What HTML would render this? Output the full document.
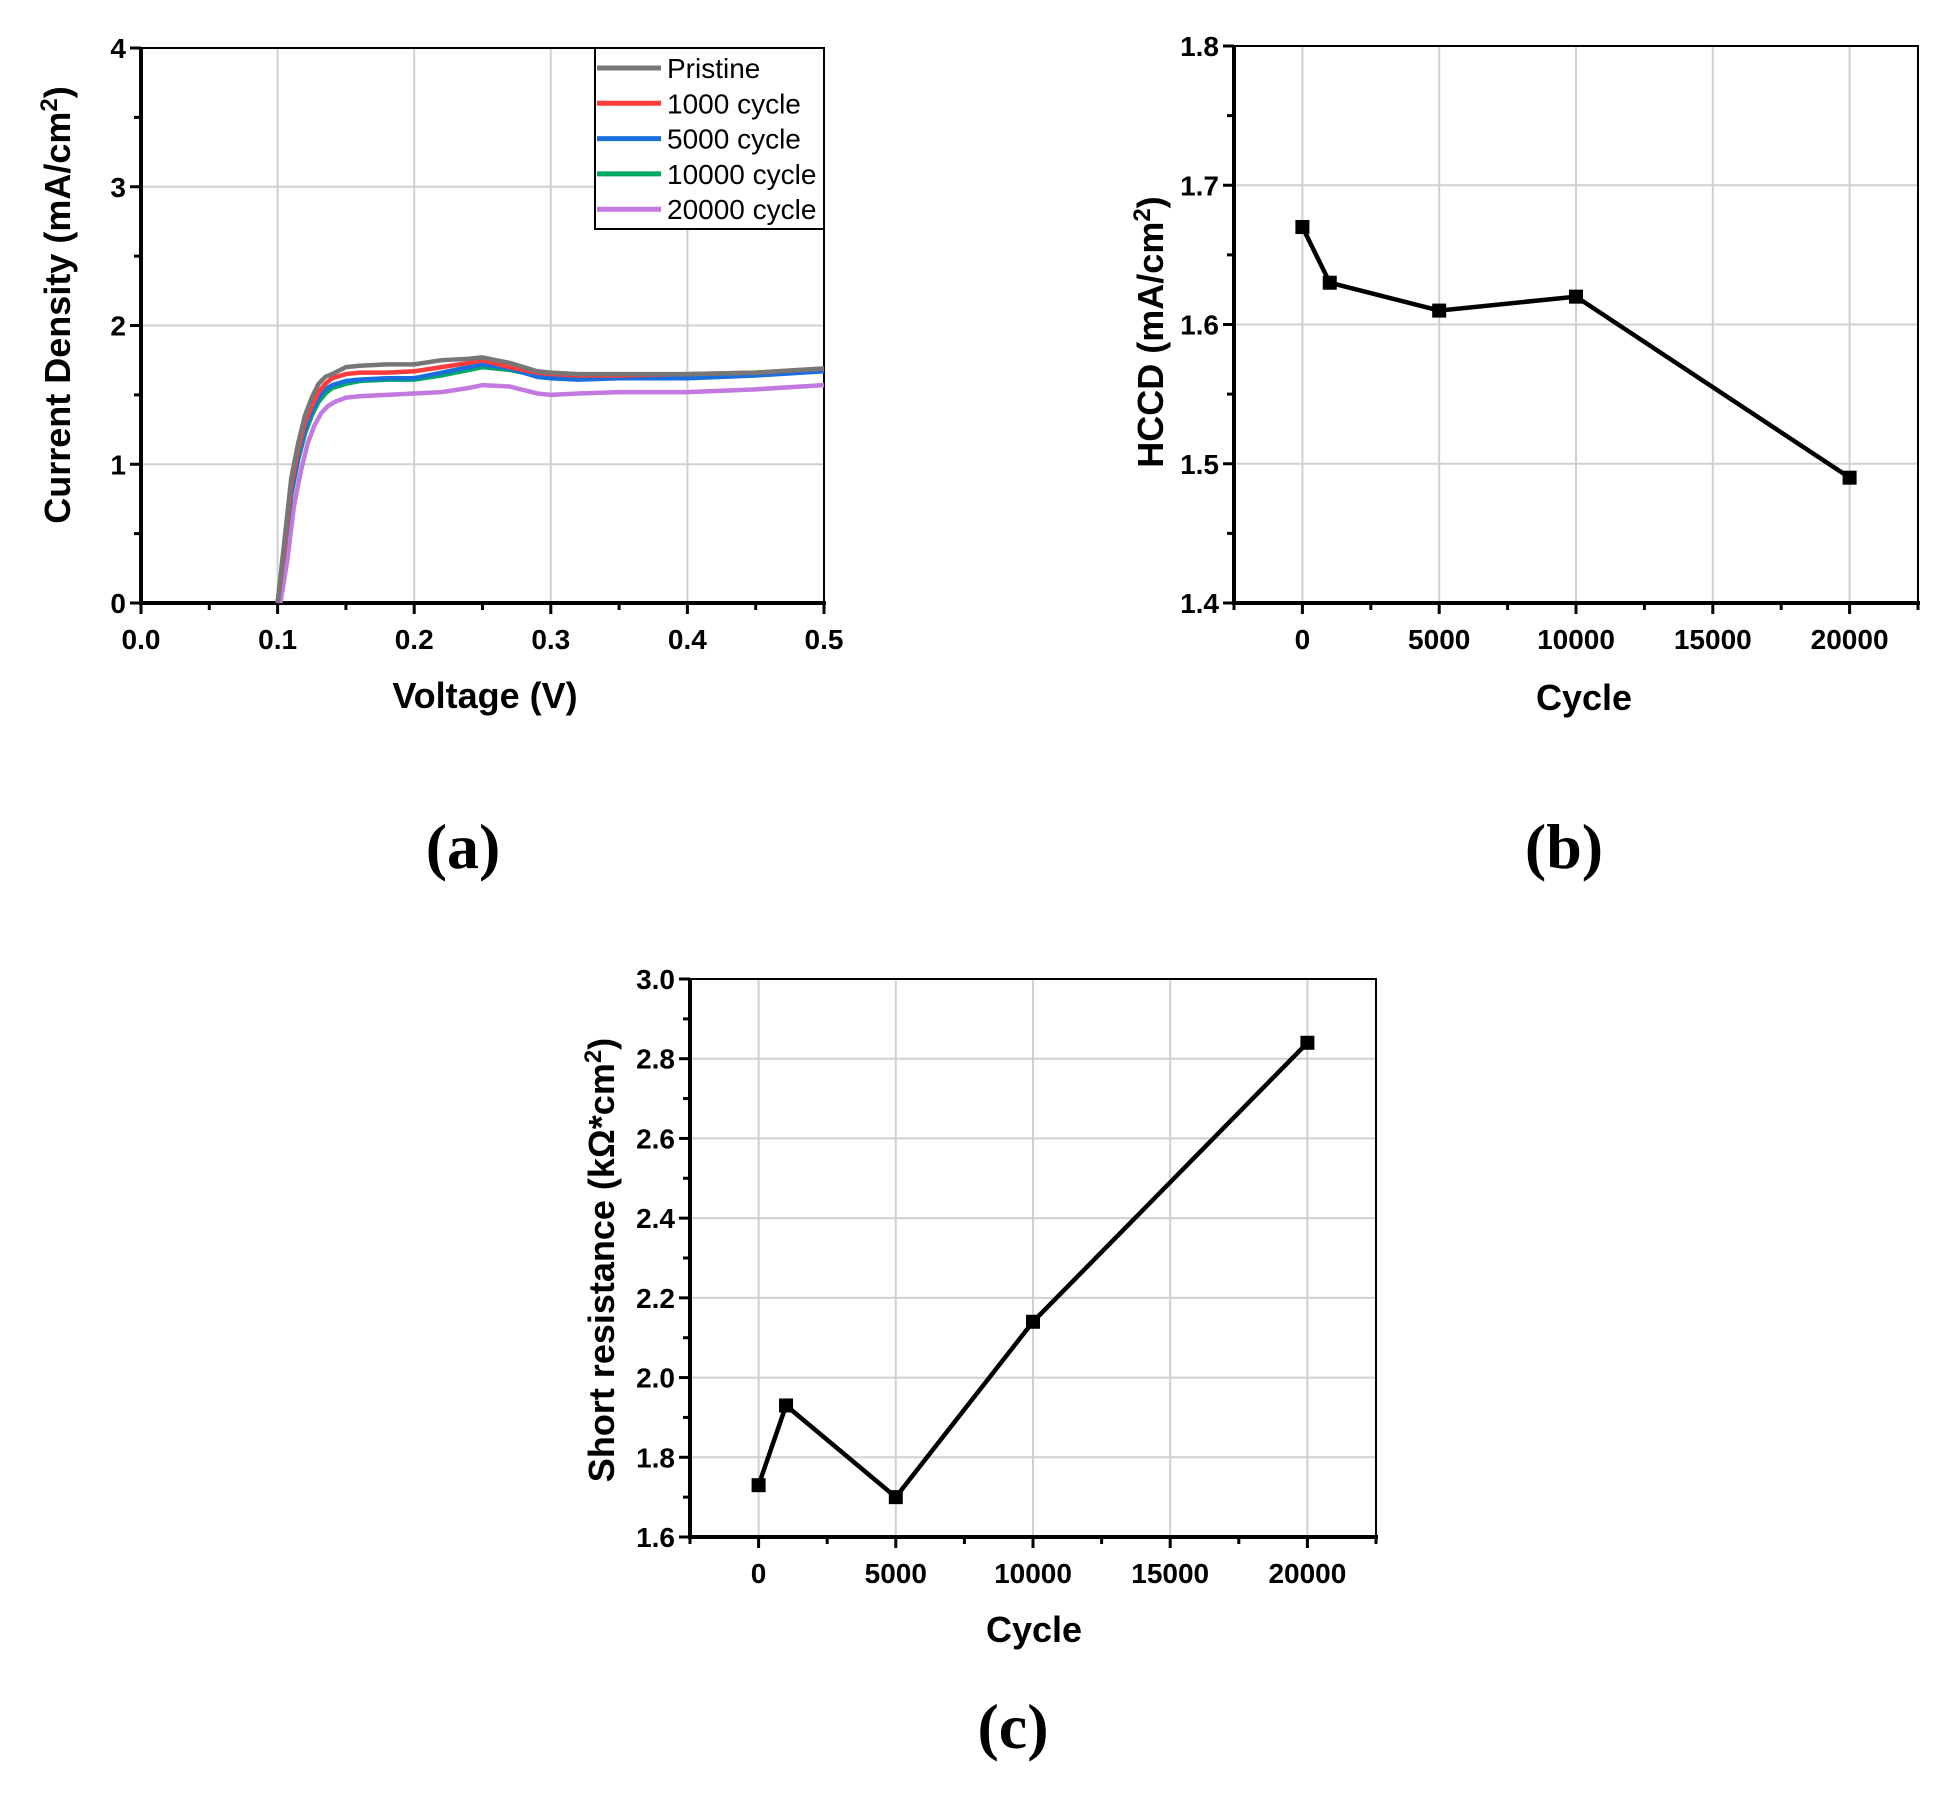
<!DOCTYPE html>
<html><head><meta charset="utf-8"><style>
html,body{margin:0;padding:0;background:#fff;}
svg{display:block;font-family:"Liberation Sans",Arial,sans-serif;}
</style></head><body>
<svg id="fig" width="1949" height="1794" viewBox="0 0 1949 1794" xmlns="http://www.w3.org/2000/svg"></svg>
<script>
// ---- Panel (a) data ----
const aVolt = [0.1,0.105,0.11,0.115,0.12,0.125,0.13,0.135,0.14,0.15,0.16,0.18,0.2,0.22,0.24,0.25,0.27,0.29,0.3,0.32,0.35,0.4,0.45,0.5];
const aVolt20k = [0.102,0.107,0.112,0.117,0.122,0.127,0.132,0.137,0.142,0.15,0.16,0.18,0.2,0.22,0.24,0.25,0.27,0.29,0.3,0.32,0.35,0.4,0.45,0.5];
const aPristine = [0,0.45,0.9,1.15,1.35,1.48,1.58,1.63,1.65,1.70,1.71,1.72,1.72,1.75,1.76,1.77,1.73,1.67,1.66,1.65,1.65,1.65,1.66,1.69];
const a1000 = [0,0.4,0.85,1.1,1.3,1.42,1.52,1.58,1.62,1.65,1.66,1.66,1.67,1.7,1.73,1.75,1.70,1.66,1.65,1.64,1.64,1.65,1.66,1.69];
const a5000 = [0,0.4,0.8,1.05,1.25,1.38,1.48,1.54,1.57,1.6,1.61,1.62,1.62,1.66,1.7,1.72,1.69,1.63,1.62,1.61,1.62,1.62,1.64,1.67];
const a10000 = [0,0.38,0.78,1.03,1.22,1.35,1.45,1.51,1.55,1.58,1.6,1.61,1.61,1.64,1.68,1.7,1.68,1.64,1.63,1.63,1.63,1.64,1.65,1.68];
const a20000 = [0,0.3,0.7,0.95,1.15,1.28,1.37,1.42,1.45,1.48,1.49,1.5,1.51,1.52,1.55,1.57,1.56,1.51,1.50,1.51,1.52,1.52,1.54,1.57];
const aSeriesNames = ["Pristine","1000 cycle","5000 cycle","10000 cycle","20000 cycle"];
const aXTicks = ["0.0","0.1","0.2","0.3","0.4","0.5"];
const aYTicks = ["0","1","2","3","4"];
// ---- Panel (b) data ----
const bCycles = [0,1000,5000,10000,20000];
const bHCCD = [1.67,1.63,1.61,1.62,1.49];
const bYTicks = ["1.4","1.5","1.6","1.7","1.8"];
// ---- Panel (c) data ----
const cCycles = [0,1000,5000,10000,20000];
const cRes = [1.73,1.93,1.70,2.14,2.84];
const cYTicks = ["1.6","1.8","2.0","2.2","2.4","2.6","2.8","3.0"];
const cycleTicks = ["0","5000","10000","15000","20000"];

const NS="http://www.w3.org/2000/svg";
const svg=document.getElementById('fig');
function mk(tag,attrs,parent){const e=document.createElementNS(NS,tag);for(const k in attrs)e.setAttribute(k,attrs[k]);(parent||svg).appendChild(e);return e;}
function txt(s,attrs,parent){const e=mk('text',attrs,parent);e.textContent=s;return e;}
function scale(d0,d1,r0,r1){return v=>r0+(v-d0)/(d1-d0)*(r1-r0);}

function axes(g,box,xd,yd,xMajor,xMinor,yMajor,yMinor,xLabels,yLabels){
  const X=scale(xd[0],xd[1],box.l,box.r),Y=scale(yd[0],yd[1],box.b,box.t);
  xMajor.forEach(v=>{const l=mk('line',{x1:X(v),x2:X(v),y1:box.t,y2:box.b,stroke:'#d0d0d0','stroke-width':2},g);
    
    });
  yMajor.forEach(v=>{const l=mk('line',{x1:box.l,x2:box.r,y1:Y(v),y2:Y(v),stroke:'#d0d0d0','stroke-width':2},g);
    
    });
  const f=mk('rect',{x:box.l,y:box.t,width:box.r-box.l,height:box.b-box.t,fill:'none',stroke:'#000','stroke-width':2},g);
  
  
  mk('line',{x1:box.l,x2:box.l,y1:box.t-1,y2:box.b+2,stroke:'#000','stroke-width':4},g);
  mk('line',{x1:box.l-2,x2:box.r+2,y1:box.b,y2:box.b,stroke:'#000','stroke-width':4},g);
  xMajor.forEach((v,i)=>{mk('line',{x1:X(v),x2:X(v),y1:box.b,y2:box.b+11,stroke:'#000','stroke-width':3},g);
    const t=txt(xLabels[i],{x:X(v),y:box.b+46,'text-anchor':'middle','font-size':28,'font-weight':'bold'},g);
    
    });
  xMinor.forEach(v=>mk('line',{x1:X(v),x2:X(v),y1:box.b,y2:box.b+7,stroke:'#000','stroke-width':3},g));
  yMajor.forEach((v,i)=>{mk('line',{x1:box.l-11,x2:box.l,y1:Y(v),y2:Y(v),stroke:'#000','stroke-width':3},g);
    const t=txt(yLabels[i],{x:box.l-15,y:Y(v)+10,'text-anchor':'end','font-size':28,'font-weight':'bold'},g);
    
    });
  yMinor.forEach(v=>mk('line',{x1:box.l-7,x2:box.l,y1:Y(v),y2:Y(v),stroke:'#000','stroke-width':3},g));
  return {X,Y};
}
function range(a,b,s){const r=[];for(let v=a;v<=b+1e-9;v+=s)r.push(+v.toFixed(6));return r;}
function ytitle(g,s,sup,after,cx,cy){
  const t=mk('text',{transform:`translate(${cx},${cy}) rotate(-90)`,'text-anchor':'middle','font-size':36,'font-weight':'bold'},g);
  t.appendChild(document.createTextNode(s));
  const sp=document.createElementNS(NS,'tspan');sp.setAttribute('baseline-shift','super');sp.setAttribute('font-size','24');sp.textContent=sup;t.appendChild(sp);
  t.appendChild(document.createTextNode(after));
  return t;
}

// ===== Panel a =====
const ga=mk('g',{});
const boxA={l:141,r:824,t:48,b:603};
const A=axes(ga,boxA,[0,0.5],[0,4],range(0,0.5,0.1),range(0.05,0.45,0.1),range(0,4,1),range(0.5,3.5,1),aXTicks,aYTicks);
const aColors=['#777777','#ff3b3b','#1a6fde','#00aa60','#c279e0'];
const aData=[a20000,a10000,a5000,a1000,aPristine];
const aX=[aVolt20k,aVolt,aVolt,aVolt,aVolt];
const aIdx=[4,3,2,1,0];
aData.forEach((ys,k)=>{const xs=aX[k];
  const p=mk('polyline',{points:ys.map((y,i)=>A.X(xs[i])+','+A.Y(y)).join(' '),fill:'none',stroke:aColors[aIdx[k]],'stroke-width':4.5,'stroke-linejoin':'round'},ga);
  
  });
const lg=mk('g',{},ga);
mk('rect',{x:595,y:48,width:229,height:181,fill:'#fff',stroke:'#000','stroke-width':2},lg);
aSeriesNames.forEach((n,i)=>{const y=68+35.3*i;
  mk('line',{x1:597,x2:661,y1:y,y2:y,stroke:aColors[i],'stroke-width':5},lg);
  const t=txt(n,{x:667,y:y+10,'font-size':28},lg);
  
  });
txt('Voltage (V)',{x:485,y:708,'text-anchor':'middle','font-size':36,'font-weight':'bold'},ga);
ytitle(ga,'Current Density (mA/cm',"2",')',70,305);
txt('(a)',{x:463,y:868,'text-anchor':'middle','font-size':64,'font-weight':'bold','font-family':'"Liberation Serif",serif'},ga);

// ===== Panel b =====
const gb=mk('g',{});
const boxB={l:1234,r:1918,t:46,b:603};
const B=axes(gb,boxB,[-2500,22500],[1.4,1.8],range(0,20000,5000),range(-2500,22500,5000),range(1.4,1.8,0.1),range(1.45,1.75,0.1),cycleTicks,bYTicks);
mk('polyline',{points:bCycles.map((c,i)=>B.X(c)+','+B.Y(bHCCD[i])).join(' '),fill:'none',stroke:'#000','stroke-width':4.5},gb);
bCycles.forEach((c,i)=>{const r=mk('rect',{x:B.X(c)-7,y:B.Y(bHCCD[i])-7,width:14,height:14,fill:'#000'},gb);
  
  });
txt('Cycle',{x:1584,y:710,'text-anchor':'middle','font-size':36,'font-weight':'bold'},gb);
ytitle(gb,'HCCD (mA/cm',"2",')',1163,332);
txt('(b)',{x:1564,y:868,'text-anchor':'middle','font-size':64,'font-weight':'bold','font-family':'"Liberation Serif",serif'},gb);

// ===== Panel c =====
const gc=mk('g',{});
const boxC={l:690,r:1376,t:979,b:1537};
const C=axes(gc,boxC,[-2500,22500],[1.6,3.0],range(0,20000,5000),range(-2500,22500,5000),range(1.6,3.0,0.2),range(1.7,2.9,0.2),cycleTicks,cYTicks);
mk('polyline',{points:cCycles.map((c,i)=>C.X(c)+','+C.Y(cRes[i])).join(' '),fill:'none',stroke:'#000','stroke-width':4.5},gc);
cCycles.forEach((c,i)=>{const r=mk('rect',{x:C.X(c)-7,y:C.Y(cRes[i])-7,width:14,height:14,fill:'#000'},gc);
  
  });
txt('Cycle',{x:1034,y:1642,'text-anchor':'middle','font-size':36,'font-weight':'bold'},gc);
ytitle(gc,'Short resistance (kΩ*cm',"2",')',614,1260);
txt('(c)',{x:1013,y:1748,'text-anchor':'middle','font-size':64,'font-weight':'bold','font-family':'"Liberation Serif",serif'},gc);
</script>
</body></html>
